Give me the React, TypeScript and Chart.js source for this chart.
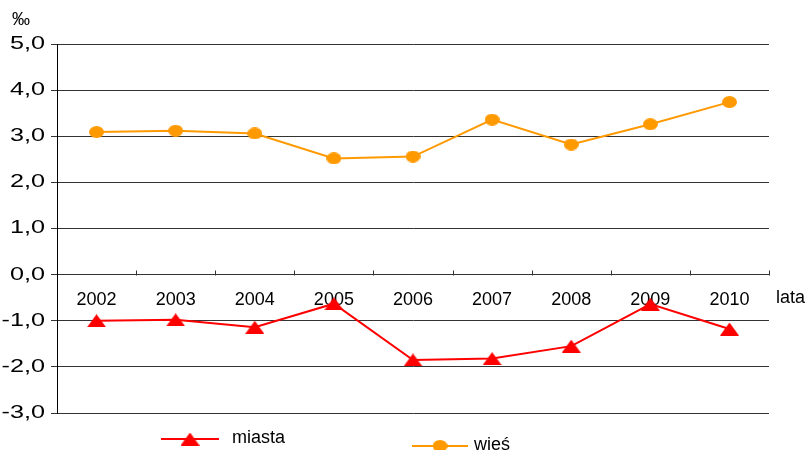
import React, { useEffect, useRef } from "react";
import { Chart, registerables } from "chart.js";

Chart.register(...registerables);

const years = ["2002", "2003", "2004", "2005", "2006", "2007", "2008", "2009", "2010"];
const miasta = [-1.0, -0.98, -1.14, -0.63, -1.85, -1.82, -1.55, -0.64, -1.18];
const wies = [3.09, 3.12, 3.06, 2.52, 2.56, 3.36, 2.82, 3.26, 3.74];
const seriesNames = ["miasta", "wieś"];
const yTicks = { min: -3, max: 5, step: 1 };

const RED = "#FF0000";
const ORANGE = "#FF9900";
const FONT = "'Liberation Sans', Arial, sans-serif";

function makeTriangle(): HTMLCanvasElement {
  const c = document.createElement("canvas");
  c.width = 19;
  c.height = 13;
  const g = c.getContext("2d")!;
  g.fillStyle = RED;
  g.beginPath();
  g.moveTo(9.5, 0);
  g.lineTo(19, 13);
  g.lineTo(0, 13);
  g.closePath();
  g.fill();
  return c;
}

function makeCircle(): HTMLCanvasElement {
  const c = document.createElement("canvas");
  c.width = 15;
  c.height = 12;
  const g = c.getContext("2d")!;
  g.fillStyle = ORANGE;
  g.beginPath();
  g.ellipse(7.5, 6, 7.5, 6, 0, 0, Math.PI * 2);
  g.fill();
  return c;
}

const fmt = (v: number) => v.toFixed(1).replace(".", ",");

export default function App() {
  const ref = useRef<HTMLCanvasElement>(null);

  useEffect(() => {
    if (!ref.current) return;
    const tri = makeTriangle();
    const circ = makeCircle();

    const extras = {
      id: "extras",
      afterDraw(chart: any) {
        const ctx = chart.ctx;
        const y = chart.scales.y;
        const area = chart.chartArea;
        ctx.save();
        // upward tick marks on zero line at category boundaries
        const y0 = Math.round(y.getPixelForValue(0)) + 0.5;
        const step = (area.right - area.left) / years.length;
        ctx.strokeStyle = "#333";
        ctx.lineWidth = 1;
        for (let i = 1; i <= years.length; i++) {
          const px = Math.round(area.left + i * step) + 0.5;
          ctx.beginPath();
          ctx.moveTo(px, y0);
          ctx.lineTo(px, y0 - 5);
          ctx.stroke();
        }
        // y tick labels (horizontally widened, as in the source)
        ctx.fillStyle = "#000";
        ctx.font = `18px ${FONT}`;
        ctx.textBaseline = "middle";
        ctx.textAlign = "right";
        for (const t of y.ticks) {
          const py = y.getPixelForValue(t.value);
          ctx.save();
          ctx.translate(45, py);
          ctx.scale(1.4, 1);
          ctx.fillText(fmt(t.value), 0, 0);
          ctx.restore();
        }
        ctx.textAlign = "left";
        ctx.fillText("‰", 12, 20);
        ctx.fillText("lata", 776, 298);
        // legend
        ctx.lineWidth = 2;
        ctx.strokeStyle = RED;
        ctx.beginPath();
        ctx.moveTo(161, 439);
        ctx.lineTo(219, 439);
        ctx.stroke();
        ctx.drawImage(tri, 190 - 9.5, 439 - 6.5);
        ctx.fillText(seriesNames[0], 232, 438);
        ctx.strokeStyle = ORANGE;
        ctx.beginPath();
        ctx.moveTo(412, 446);
        ctx.lineTo(468, 446);
        ctx.stroke();
        ctx.drawImage(circ, 440 - 7.5, 446 - 6);
        ctx.fillText(seriesNames[1], 474, 445);
        ctx.restore();
      },
    };

    const chart = new Chart(ref.current, {
      type: "line",
      data: {
        labels: years,
        datasets: [
          {
            label: seriesNames[0],
            data: miasta,
            borderColor: RED,
            backgroundColor: RED,
            borderWidth: 2,
            pointStyle: tri as any,
            pointRadius: 9,
            tension: 0,
          },
          {
            label: seriesNames[1],
            data: wies,
            borderColor: ORANGE,
            backgroundColor: ORANGE,
            borderWidth: 2,
            pointStyle: circ as any,
            pointRadius: 7,
            tension: 0,
          },
        ],
      },
      options: {
        responsive: false,
        animation: false,
        layout: { padding: { left: 0, top: 44, right: 38, bottom: 37 } },
        plugins: {
          legend: { display: false },
          tooltip: { enabled: false },
        },
        scales: {
          x: {
            type: "category",
            position: { y: 0 } as any,
            offset: true,
            grid: { display: false, drawOnChartArea: false, drawTicks: false },
            border: { display: true, color: "#333", width: 1 },
            ticks: {
              color: "#000",
              font: { family: FONT, size: 18 },
              padding: 15,
              maxRotation: 0,
            },
          },
          y: {
            min: yTicks.min,
            max: yTicks.max,
            afterFit(scale: any) {
              scale.width = 57;
            },
            ticks: {
              stepSize: yTicks.step,
              display: false,
            },
            grid: { color: "#333", lineWidth: 1, tickLength: 6 },
            border: { display: true, color: "#000", width: 1 },
          },
        },
      },
      plugins: [extras],
    });
    return () => chart.destroy();
  }, []);

  return (
    <div style={{ position: "absolute", left: 0, top: 0, width: 807, height: 450 }}>
      <canvas ref={ref} width={807} height={450} style={{ display: "block" }} />
    </div>
  );
}
